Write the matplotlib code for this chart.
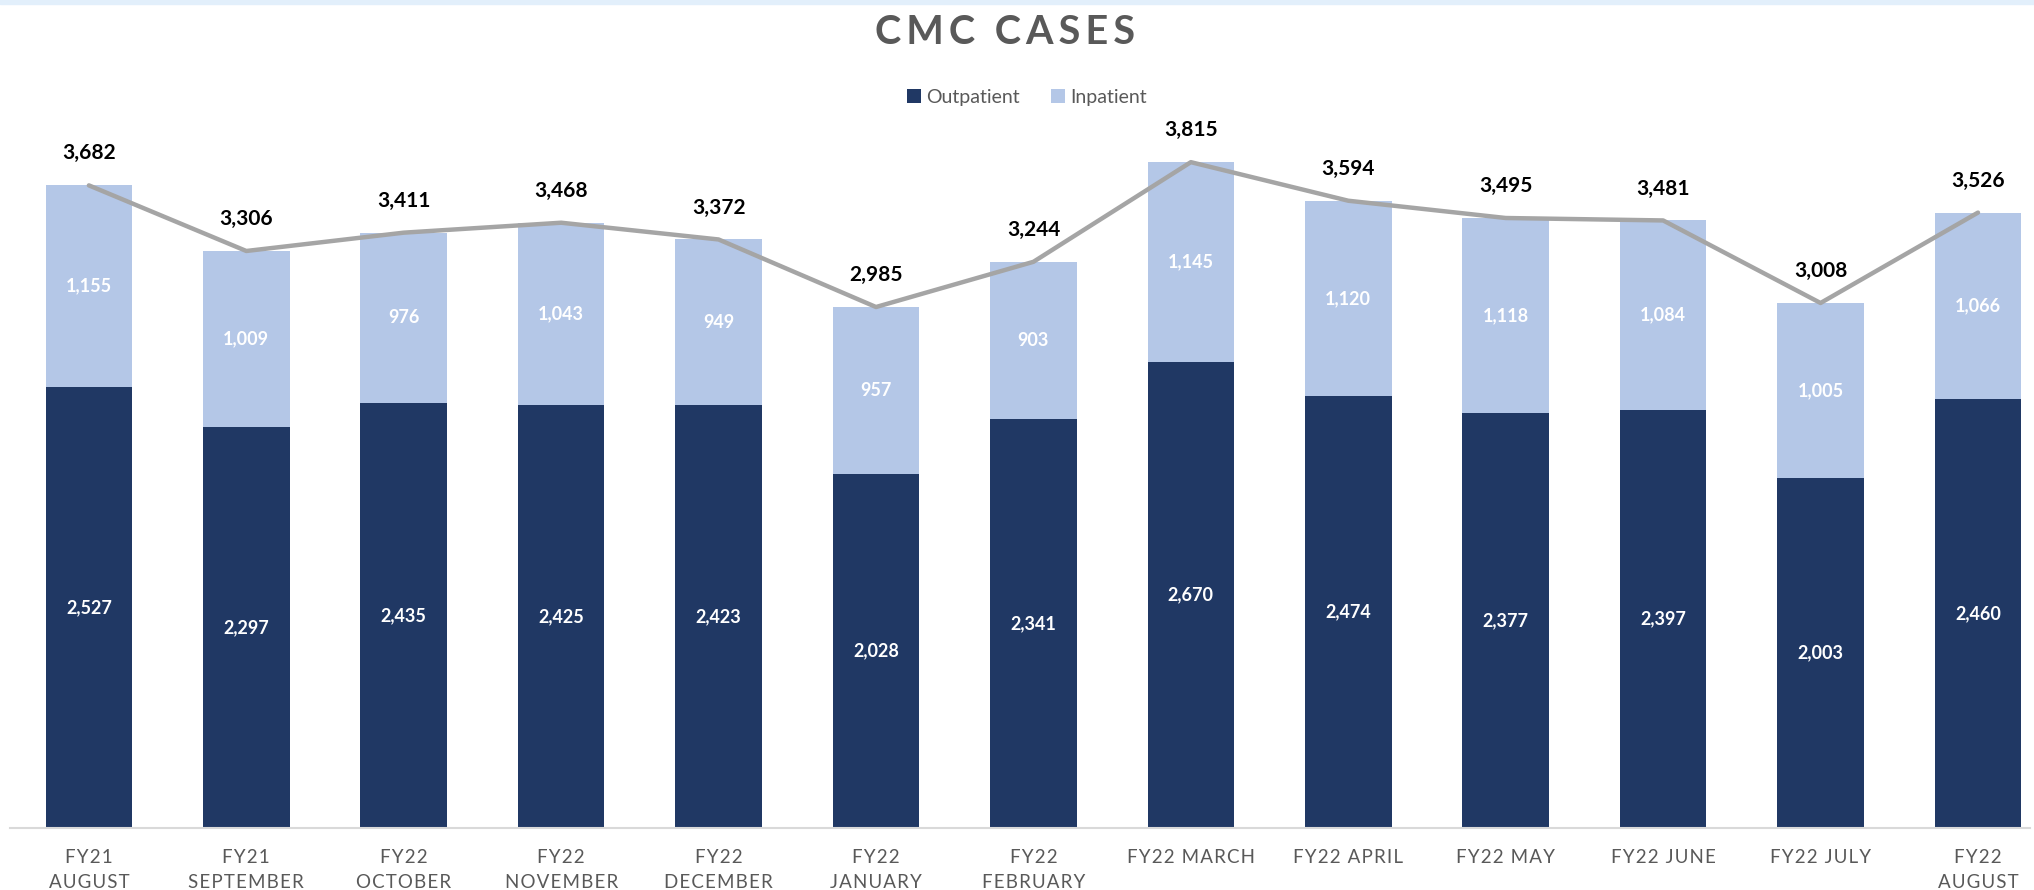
import numpy as np
import matplotlib
matplotlib.use("Agg")
import matplotlib.pyplot as plt
from matplotlib.patches import Rectangle

plt.rcParams["font.family"] = ["Lato", "DejaVu Sans"]

# data
months = ["FY21\nAUGUST", "FY21\nSEPTEMBER", "FY22\nOCTOBER", "FY22\nNOVEMBER",
          "FY22\nDECEMBER", "FY22\nJANUARY", "FY22\nFEBRUARY", "FY22 MARCH",
          "FY22 APRIL", "FY22 MAY", "FY22 JUNE", "FY22 JULY", "FY22\nAUGUST"]
outpatient = [2527, 2297, 2435, 2425, 2423, 2028, 2341, 2670, 2474, 2377, 2397, 2003, 2460]
inpatient = [1155, 1009, 976, 1043, 949, 957, 903, 1145, 1120, 1118, 1084, 1005, 1066]
totals = [3682, 3306, 3411, 3468, 3372, 2985, 3244, 3815, 3594, 3495, 3481, 3008, 3526]

dark = "#203864"
light = "#B4C7E7"
grey_line = "#A5A5A5"
text_grey = "#595959"


def spaced(s, gap="\u200a"):
    """Loose letter spacing like the Excel labels."""
    return "\n".join(gap.join(line) for line in s.split("\n"))


fig = plt.figure(figsize=(20.34, 8.9), dpi=100)
# thin light blue band at the very top
fig.patches.append(Rectangle((0, 0.995), 1, 0.005, transform=fig.transFigure,
                             color="#E2EFFB", zorder=0))
ax = fig.add_axes([0.005, 0.0697, 0.993, 0.8236])

x = np.arange(len(months))
b1 = ax.bar(x, outpatient, width=0.55, color=dark, label="Outpatient", zorder=2)
b2 = ax.bar(x, inpatient, width=0.55, bottom=outpatient, color=light, label="Inpatient", zorder=2)
ax.plot(x, totals, color=grey_line, lw=3.2, zorder=3, solid_capstyle="round")

for xi, o, i, t in zip(x, outpatient, inpatient, totals):
    ax.text(xi, o / 2, f"{o:,}", ha="center", va="center", color="white",
            fontsize=13, fontweight="bold")
    ax.text(xi, o + i / 2, f"{i:,}", ha="center", va="center", color="white",
            fontsize=13, fontweight="bold")
    ax.annotate(f"{t:,}", (xi, t), xytext=(0, 23), textcoords="offset points",
                ha="center", va="center", fontsize=15, fontweight="bold", color="black")

ax.set_xlim(-0.5, 12.33)
ax.set_ylim(0, 4200)
ax.set_xticks(x)
ax.set_xticklabels([spaced(m) for m in months], fontsize=13.5, color=text_grey,
                   linespacing=1.6)
ax.tick_params(axis="x", length=0, pad=15)
ax.set_yticks([])
for s in ["top", "right", "left"]:
    ax.spines[s].set_visible(False)
ax.spines["bottom"].set_color("#D9D9D9")
ax.spines["bottom"].set_linewidth(1.5)

fig.text(0.494, 0.963, spaced("CMC CASES", "\u2009"), ha="center", va="center",
         fontsize=28.5, fontweight="bold", color=text_grey)
fig.legend(handles=[b1, b2], loc="center", bbox_to_anchor=(0.505, 0.891), ncol=2,
           frameon=False, fontsize=14, handlelength=0.7, handleheight=0.7,
           handletextpad=0.3, columnspacing=1.6, labelcolor=text_grey)

fig.savefig("out.png", dpi=100)
